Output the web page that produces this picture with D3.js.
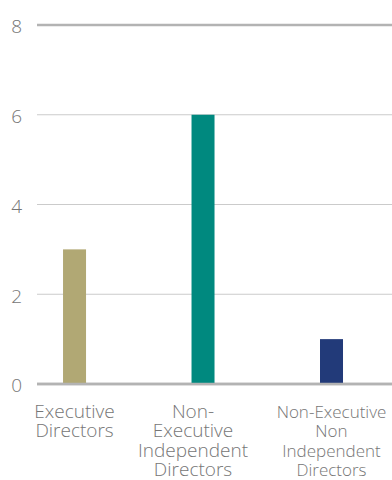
<!DOCTYPE html>
<html>
<head>
<meta charset="utf-8">
<script src="https://cdn.jsdelivr.net/npm/d3@7"></script>
<style>
  html, body { margin: 0; padding: 0; background: #fff; }
  svg { display: block; }
  text { font-family: "Open Sans", "Noto Sans", sans-serif; font-weight: 300; fill: #767676; }
</style>
</head>
<body>
<svg id="chart" width="392" height="480"></svg>
<script>
// Board composition by director type
const categories = [
  ["Executive", "Directors"],
  ["Non-", "Executive", "Independent", "Directors"],
  ["Non-Executive", "Non", "Independent", "Directors"]
];
const categoryKeys = ["Executive Directors", "Non-Executive Independent Directors", "Non-Executive Non Independent Directors"];
const values = [3, 6, 1];
const barColors = ["#b1a874", "#00897f", "#223a79"];
const yTicks = [0, 2, 4, 6, 8];

const width = 392, height = 480;
const plot = { left: 37, right: 392, top: 25, bottom: 384 };

const svg = d3.select("#chart");

const x = d3.scaleBand()
  .domain(categoryKeys)
  .range([plot.left, plot.right])
  .paddingInner(0.821)
  .paddingOuter(0.292)
  .align(0.347);

const y = d3.scaleLinear()
  .domain([0, 8])
  .range([plot.bottom, plot.top]);

// Horizontal gridlines; outer ones heavier
const grid = svg.append("g");
grid.selectAll("line")
  .data(yTicks)
  .join("line")
  .attr("x1", plot.left)
  .attr("x2", plot.right)
  .attr("y1", d => y(d))
  .attr("y2", d => y(d))
  .attr("stroke", d => (d === 0 || d === 8) ? "#b3b3b3" : "#cbcbcb")
  .attr("stroke-width", d => (d === 0 || d === 8) ? 2.5 : 1);

// Y axis labels
const yAxis = d3.axisLeft(y).tickValues(yTicks).tickSize(0).tickPadding(0);
const yg = svg.append("g")
  .attr("transform", `translate(22,0)`)
  .call(yAxis);
yg.select(".domain").remove();
yg.selectAll("text")
  .attr("font-size", 19)
  .attr("dy", "0.42em")
  .attr("fill", "#767676")
  .style("font-family", '"Open Sans", "Noto Sans", sans-serif')
  .style("font-weight", 300);

// Bars
svg.append("g")
  .selectAll("rect")
  .data(values)
  .join("rect")
  .attr("x", (d, i) => x(categoryKeys[i]))
  .attr("width", x.bandwidth())
  .attr("y", d => y(d))
  .attr("height", d => y(0) - y(d))
  .attr("fill", (d, i) => barColors[i]);

// Redraw baseline over the bar bottoms
svg.append("line")
  .attr("x1", plot.left).attr("x2", plot.right)
  .attr("y1", y(0)).attr("y2", y(0))
  .attr("stroke", "#b3b3b3").attr("stroke-width", 2.5);

// Category labels, multi-line; the last block is set smaller to fit the edge,
// the middle block sits a little left of its bar
const labelNudge = [0, -10, 0];
const labelSize = [19, 19, 17];
const labels = svg.append("g");
categories.forEach((lines, i) => {
  const cx = x(categoryKeys[i]) + x.bandwidth() / 2 + labelNudge[i];
  const t = labels.append("text")
    .attr("text-anchor", "middle")
    .attr("font-size", labelSize[i])
    .attr("x", cx)
    .attr("y", 418);
  lines.forEach((ln, j) => {
    t.append("tspan")
      .attr("x", cx)
      .attr("dy", j === 0 ? 0 : 19.4)
      .text(ln);
  });
});
</script>
</body>
</html>
